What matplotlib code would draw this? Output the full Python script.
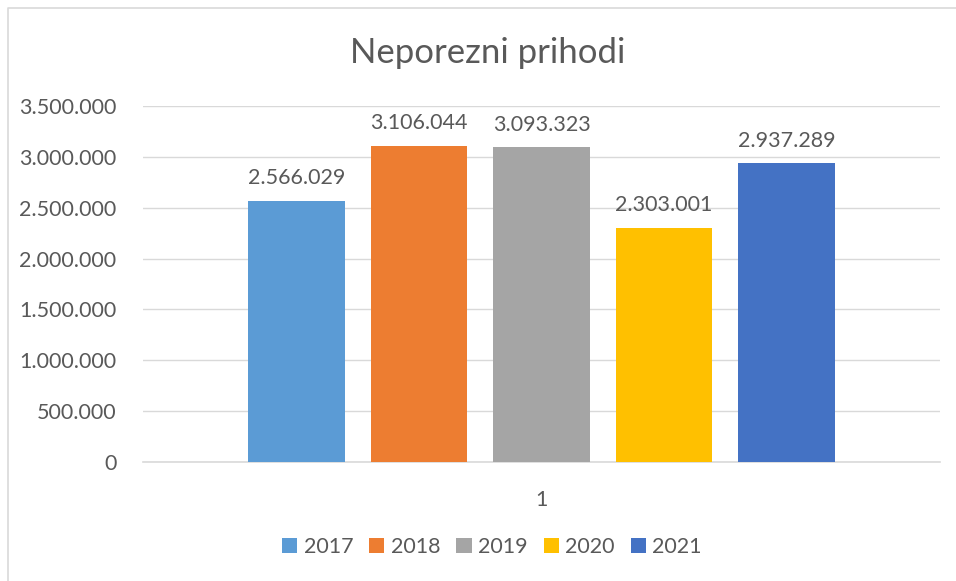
import matplotlib
matplotlib.use("Agg")
import matplotlib.pyplot as plt
from matplotlib.lines import Line2D
from matplotlib.ticker import FuncFormatter

years = ["2017", "2018", "2019", "2020", "2021"]
values = [2566029, 3106044, 3093323, 2303001, 2937289]
colors = ["#5B9BD5", "#ED7D31", "#A5A5A5", "#FFC000", "#4472C4"]
category = "1"
title = "Neporezni prihodi"

plt.rcParams['font.family'] = ['Lato', 'DejaVu Sans']
txt = "#595959"

fig = plt.figure(figsize=(9.56, 5.81), dpi=100)
fig.patch.set_facecolor("white")
fig.add_artist(Line2D([7.5/956, 7.5/956, 1.0], [0.0, 1-7.5/581, 1-7.5/581],
                      transform=fig.transFigure, color="#D9D9D9", linewidth=1.2))

ax = fig.add_axes([143/956, 1-462/581, (940-143)/956, (462-106)/581])
width = 0.1217
step = 0.1537
fmt = lambda v: f"{int(v):,}".replace(",", ".")
for i, (y, v, c) in enumerate(zip(years, values, colors)):
    x = (i - 2) * step
    ax.bar(x, v, width=width, color=c, label=y, zorder=3)
    ax.text(x, v + 125000, fmt(v), ha="center", va="bottom", fontsize=15.5, color=txt)

ax.set_xlim(-0.5, 0.5)
ax.set_ylim(0, 3500000)
ax.set_yticks(range(0, 3500001, 500000))
ax.yaxis.set_major_formatter(FuncFormatter(lambda v, p: fmt(v)))
ax.set_xticks([0])
ax.set_xticklabels([category])
ax.tick_params(axis="both", length=0, labelsize=15.5, colors=txt)
ax.tick_params(axis="y", pad=19)
ax.tick_params(axis="x", pad=20)
ax.grid(axis="y", color="#D9D9D9", linewidth=1, zorder=0)
for s in ["top", "right", "left"]:
    ax.spines[s].set_visible(False)
ax.spines["bottom"].set_color("#D9D9D9")
ax.spines["bottom"].set_linewidth(1.2)

fig.text(488/956, 1-53/581, title, ha="center", va="center", fontsize=25, color=txt)

leg = fig.legend(loc="center", bbox_to_anchor=(492/956, 1-547/581), ncol=5, frameon=False,
                 fontsize=15.5, handlelength=0.7, handleheight=0.7, handletextpad=0.3,
                 columnspacing=0.75)
for t in leg.get_texts():
    t.set_color(txt)

fig.savefig("out.png", dpi=100, facecolor="white")
